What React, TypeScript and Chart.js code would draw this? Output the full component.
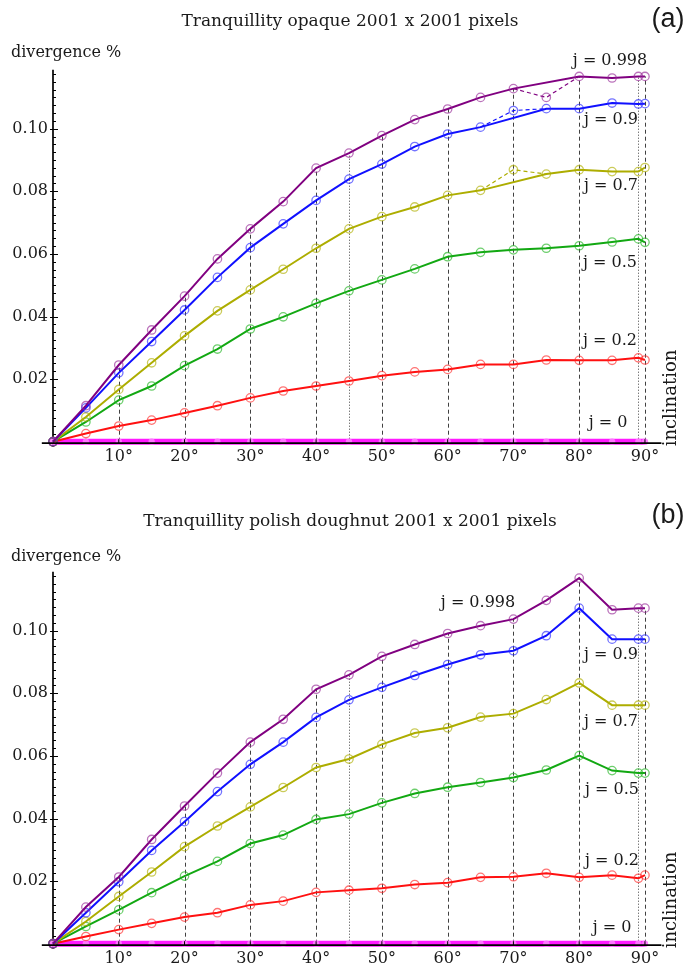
import React, { useEffect, useRef } from "react";
import { Chart, registerables } from "chart.js";
Chart.register(...registerables);

// ---------- shared ----------
const ANGLES = [0, 5, 10, 15, 20, 25, 30, 35, 40, 45, 50, 55, 60, 65, 70, 75, 80, 85, 89, 90];
const X_TICKS = [10, 20, 30, 40, 50, 60, 70, 80, 90];
const X_TICK_LABELS = ["10°", "20°", "30°", "40°", "50°", "60°", "70°", "80°", "90°"];
const Y_TICKS = [0.02, 0.04, 0.06, 0.08, 0.1];
const Y_TICK_LABELS = ["0.02", "0.04", "0.06", "0.08", "0.10"];
const DASHED_ANGLES = [10, 20, 30, 40, 50, 60, 70, 80, 90];
const DOTTED_ANGLES = [45, 89];
const SERIES_NAMES = ["j = 0.998", "j = 0.9", "j = 0.7", "j = 0.5", "j = 0.2", "j = 0"];
const Y_LABEL = "divergence %";
const X_LABEL = "inclination";

// ---------- panel (a) ----------
const A_TITLE = "Tranquillity opaque 2001 x 2001 pixels";
const A_TAG = "(a)";
const A_J0998 = [0, 0.0115, 0.0245, 0.0357, 0.0465, 0.0584, 0.068, 0.0767, 0.0874, 0.0922, 0.0978, 0.1029, 0.1063, 0.110, 0.1128, null, 0.1167, 0.1162, 0.1167, 0.1167];
const A_J0998_ALT = [null, null, null, null, null, null, null, null, null, null, null, null, null, null, 0.1128, 0.110, 0.1167, null, null, null];
const A_J09 = [0, 0.0108, 0.022, 0.032, 0.0421, 0.0525, 0.062, 0.0696, 0.0771, 0.0839, 0.0887, 0.0943, 0.0983, 0.1005, null, 0.1064, 0.1064, 0.1082, 0.1079, 0.108];
const A_J09_ALT = [null, null, null, null, null, null, null, null, null, null, null, null, null, 0.1005, 0.1058, 0.1064, null, null, null, null];
const A_J07 = [0, 0.0079, 0.0167, 0.0252, 0.0338, 0.0418, 0.0485, 0.0551, 0.0618, 0.068, 0.0719, 0.075, 0.0787, 0.0803, null, 0.0855, 0.0869, 0.0863, 0.0863, 0.0876];
const A_J07_ALT = [null, null, null, null, null, null, null, null, null, null, null, null, null, 0.0803, 0.0869, 0.0855, null, null, null, null];
const A_J05 = [0, 0.0063, 0.0133, 0.0178, 0.0243, 0.0296, 0.036, 0.0399, 0.0442, 0.0482, 0.0517, 0.0552, 0.0591, 0.0605, 0.0613, 0.0618, 0.0626, 0.0638, 0.0648, 0.0637];
const A_J02 = [0, 0.0026, 0.005, 0.0069, 0.0092, 0.0115, 0.014, 0.0162, 0.0178, 0.0194, 0.0211, 0.0223, 0.0231, 0.0247, 0.0247, 0.0261, 0.026, 0.026, 0.0268, 0.0261];
const A_J0 = [0, 0, 0, 0, 0, 0, 0, 0, 0, 0, 0, 0, 0, 0, 0, 0, 0, 0, 0, 0];

// ---------- panel (b) ----------
const B_TITLE = "Tranquillity polish doughnut 2001 x 2001 pixels";
const B_TAG = "(b)";
const B_J0998 = [0, 0.0117, 0.0213, 0.0333, 0.044, 0.0545, 0.0644, 0.0717, 0.0813, 0.0859, 0.0918, 0.0956, 0.0991, 0.1016, 0.1037, 0.1097, 0.1168, 0.1067, 0.1072, 0.1072];
const B_J09 = [0, 0.0099, 0.0198, 0.0298, 0.039, 0.0486, 0.0573, 0.0644, 0.0723, 0.0779, 0.0819, 0.0857, 0.0892, 0.0923, 0.0936, 0.0984, 0.1072, 0.0973, 0.0973, 0.0973];
const B_J07 = [0, 0.0071, 0.0151, 0.0229, 0.031, 0.0376, 0.0437, 0.0499, 0.0563, 0.059, 0.0637, 0.0673, 0.069, 0.0724, 0.0735, 0.078, 0.0833, 0.0762, 0.0762, 0.0762];
const B_J05 = [0, 0.0055, 0.0108, 0.0163, 0.0216, 0.0263, 0.032, 0.0347, 0.0397, 0.0414, 0.045, 0.048, 0.05, 0.0515, 0.0531, 0.0555, 0.0601, 0.0553, 0.0545, 0.0545];
const B_J02 = [0, 0.0023, 0.0045, 0.0065, 0.0085, 0.0099, 0.0124, 0.0136, 0.0164, 0.0171, 0.0177, 0.0189, 0.0195, 0.0212, 0.0214, 0.0225, 0.0212, 0.0219, 0.0209, 0.0219];
const B_J0 = [0, 0, 0, 0, 0, 0, 0, 0, 0, 0, 0, 0, 0, 0, 0, 0, 0, 0, 0, 0];

const COLORS = [
  { line: "#800080", mark: "rgba(150,40,150,0.65)" },
  { line: "#1010ff", mark: "rgba(40,40,255,0.65)" },
  { line: "#adad00", mark: "rgba(175,175,0,0.65)" },
  { line: "#12a812", mark: "rgba(30,180,30,0.65)" },
  { line: "#ff1010", mark: "rgba(255,40,40,0.65)" },
  { line: "rgba(255,0,255,0.9)", mark: "rgba(255,120,255,0.95)" },
];

const FONT = '"DejaVu Serif", serif';
const W = 687;
const H = 462;

type PanelCfg = {
  title: string;
  tag: string;
  tagY: number;
  titleY: number;
  yLabelY: number;
  series: (number | null)[][];
  alts: { data: (number | null)[]; color: number; markIdx: number }[];
  labelPos: [number, number][];
};

function toPts(vals: (number | null)[]) {
  return ANGLES.map((a, i) => ({ x: a, y: vals[i] }));
}

function makeChart(canvas: HTMLCanvasElement, cfg: PanelCfg) {
  const datasets: any[] = [];
  cfg.series.forEach((vals, si) => {
    const isZero = si === 5;
    datasets.push({
      data: toPts(vals),
      borderColor: COLORS[si].line,
      borderWidth: isZero ? 6 : 2,
      pointRadius: isZero ? 3.2 : 4.2,
      pointBorderColor: COLORS[si].mark,
      pointBackgroundColor: isZero ? COLORS[si].mark : "rgba(0,0,0,0)",
      pointBorderWidth: isZero ? 0 : 1.3,
      spanGaps: true,
      tension: 0,
      clip: false,
      order: isZero ? 10 : si,
    });
  });
  cfg.alts.forEach((alt) => {
    datasets.push({
      data: toPts(alt.data),
      borderColor: COLORS[alt.color].line,
      borderWidth: 1.2,
      borderDash: [4, 3],
      pointRadius: (c: any) => (c.dataIndex === alt.markIdx ? 4.2 : 0),
      pointBorderColor: COLORS[alt.color].mark,
      pointBackgroundColor: "rgba(0,0,0,0)",
      pointBorderWidth: 1.3,
      spanGaps: false,
      tension: 0,
      clip: false,
      order: 8,
    });
  });

  const topAt = (angle: number) => {
    const idx = ANGLES.indexOf(angle);
    let m = 0;
    cfg.series.forEach((s) => {
      const v = s[idx];
      if (v != null && v > m) m = v;
    });
    cfg.alts.forEach((a) => {
      const v = a.data[idx];
      if (v != null && v > m) m = v;
    });
    return m;
  };

  const decor = {
    id: "decor",
    beforeDatasetsDraw(chart: any) {
      const { ctx, scales } = chart;
      const xs = scales.x;
      const ys = scales.y;
      const y0 = ys.getPixelForValue(0);
      ctx.save();
      ctx.strokeStyle = "rgba(0,0,0,0.75)";
      ctx.lineWidth = 1;
      const drawRef = (a: number, dash: number[]) => {
        const x = Math.round(xs.getPixelForValue(a)) + 0.5;
        ctx.setLineDash(dash);
        ctx.beginPath();
        ctx.moveTo(x, y0);
        ctx.lineTo(x, ys.getPixelForValue(topAt(a)));
        ctx.stroke();
      };
      DASHED_ANGLES.forEach((a) => drawRef(a, [4, 3]));
      DOTTED_ANGLES.forEach((a) => drawRef(a, [1, 2]));
      ctx.setLineDash([]);
      // y axis
      const x0 = xs.getPixelForValue(0);
      ctx.strokeStyle = "#000";
      ctx.lineWidth = 1.7;
      ctx.beginPath();
      ctx.moveTo(x0, ys.getPixelForValue(0.1188));
      ctx.lineTo(x0, ys.getPixelForValue(-0.0017));
      ctx.stroke();
      ctx.lineWidth = 1;
      for (let k = 1; k <= 47; k++) {
        const v = k * 0.0025;
        const y = Math.round(ys.getPixelForValue(v)) + 0.5;
        const major = k % 8 === 0;
        ctx.beginPath();
        ctx.moveTo(major ? x0 - 3 : x0, y);
        ctx.lineTo(major ? x0 + 5 : x0 + 3, y);
        ctx.stroke();
      }
      ctx.restore();
    },
    afterDatasetsDraw(chart: any) {
      const { ctx, scales } = chart;
      const xs = scales.x;
      const ys = scales.y;
      const y0 = ys.getPixelForValue(0) + 1.5;
      ctx.save();
      ctx.strokeStyle = "#000";
      ctx.lineWidth = 1.7;
      ctx.beginPath();
      ctx.moveTo(xs.getPixelForValue(-1.7), y0);
      ctx.lineTo(xs.getPixelForValue(92.5), y0);
      ctx.stroke();
      ctx.lineWidth = 1;
      X_TICKS.forEach((a) => {
        const x = xs.getPixelForValue(a);
        ctx.beginPath();
        ctx.moveTo(x, y0);
        ctx.lineTo(x, y0 - 4);
        ctx.stroke();
      });
      ctx.restore();
    },
    afterDraw(chart: any) {
      const { ctx, scales } = chart;
      const xs = scales.x;
      const ys = scales.y;
      const x0 = xs.getPixelForValue(0);
      const y0 = ys.getPixelForValue(0);
      ctx.save();
      ctx.fillStyle = "#1a1a1a";
      ctx.textBaseline = "middle";
      // y tick labels
      ctx.font = `16px ${FONT}`;
      ctx.textAlign = "right";
      Y_TICKS.forEach((v, i) => ctx.fillText(Y_TICK_LABELS[i], x0 - 5, ys.getPixelForValue(v)));
      // x tick labels
      ctx.textAlign = "center";
      X_TICKS.forEach((a, i) => ctx.fillText(X_TICK_LABELS[i], xs.getPixelForValue(a), y0 + 15));
      // series labels
      SERIES_NAMES.forEach((n, i) => {
        const [lx, ly] = cfg.labelPos[i];
        ctx.fillText(n, lx, ly);
      });
      // title
      ctx.font = `17px ${FONT}`;
      ctx.fillText(cfg.title, 350, cfg.titleY);
      // y axis label
      ctx.font = `16px ${FONT}`;
      ctx.textAlign = "left";
      ctx.fillText(Y_LABEL, 11, cfg.yLabelY);
      // tag
      ctx.font = `27px "Liberation Sans", sans-serif`;
      ctx.textAlign = "center";
      ctx.fillText(cfg.tag, 668, cfg.tagY);
      // inclination
      ctx.font = `18px ${FONT}`;
      ctx.translate(671, 398);
      ctx.rotate(-Math.PI / 2);
      ctx.fillText(X_LABEL, 0, 0);
      ctx.restore();
    },
  };

  return new Chart(canvas, {
    type: "line",
    data: { datasets },
    options: {
      responsive: false,
      animation: false,
      devicePixelRatio: 1,
      events: [],
      layout: { padding: { left: 39.84, right: 22.3, top: 66.1, bottom: 14.04 } },
      scales: {
        x: { type: "linear", min: -2, max: 93, display: false },
        y: { type: "linear", min: -0.002, max: 0.12, display: false },
      },
      plugins: { legend: { display: false }, tooltip: { enabled: false }, title: { display: false } },
    },
    plugins: [decor],
  } as any);
}

const CFG_A: PanelCfg = {
  title: A_TITLE,
  tag: A_TAG,
  tagY: 20,
  titleY: 22,
  yLabelY: 53,
  series: [A_J0998, A_J09, A_J07, A_J05, A_J02, A_J0],
  alts: [
    { data: A_J0998_ALT, color: 0, markIdx: 15 },
    { data: A_J09_ALT, color: 1, markIdx: 14 },
    { data: A_J07_ALT, color: 2, markIdx: 14 },
  ],
  labelPos: [[610, 61], [611, 120], [611, 186], [610, 263], [610, 341], [608, 423]],
};

const CFG_B: PanelCfg = {
  title: B_TITLE,
  tag: B_TAG,
  tagY: 14,
  titleY: 20,
  yLabelY: 55,
  series: [B_J0998, B_J09, B_J07, B_J05, B_J02, B_J0],
  alts: [],
  labelPos: [[478, 101], [611, 153], [611, 220], [612, 288], [612, 359], [612, 426]],
};

function Panel({ top, cfg }: { top: number; cfg: PanelCfg }) {
  const ref = useRef<HTMLCanvasElement>(null);
  useEffect(() => {
    const chart = makeChart(ref.current!, cfg);
    return () => chart.destroy();
  }, []);
  return (
    <canvas
      ref={ref}
      width={W}
      height={H}
      style={{ position: "absolute", left: 0, top, width: W, height: H, display: "block" }}
    />
  );
}

export default function App() {
  return (
    <div style={{ position: "absolute", left: 0, top: 0, width: 687, height: 964, background: "#fff" }}>
      <Panel top={0} cfg={CFG_A} />
      <Panel top={502} cfg={CFG_B} />
    </div>
  );
}
